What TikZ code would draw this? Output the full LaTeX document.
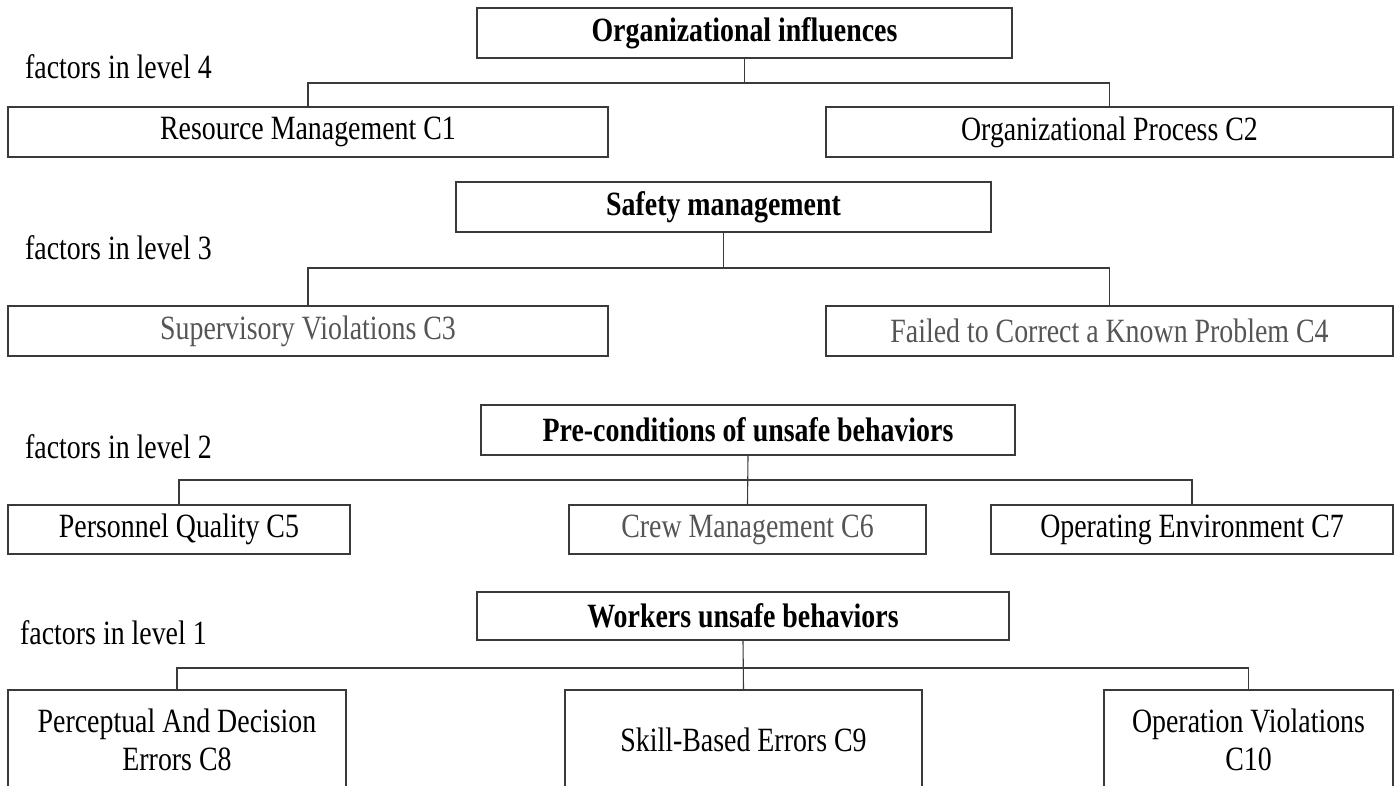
\documentclass[tikz,border=0pt]{standalone}
\usepackage{fontspec}
\setmainfont[FakeStretch=0.82]{Liberation Serif}
\usetikzlibrary{positioning}

\definecolor{linegray}{HTML}{3A3A3A}
\definecolor{textgray}{HTML}{555555}

\tikzset{
  factorbox/.style={draw=linegray, line width=1.1pt, rectangle, inner sep=0pt, minimum height=50, align=center},
  titlebox/.style={factorbox, font=\bfseries},
  graytext/.style={text=textgray},
  levellabel/.style={anchor=west, inner sep=0pt},
  link/.style={draw=linegray, line width=1.1pt}
}

\begin{document}
\fontsize{34}{38}\selectfont
\begin{tikzpicture}[x=1pt, y=-1pt]
  \useasboundingbox (0, 0) rectangle (1396, 786);
  \clip (0, 0) rectangle (1396, 786);
  \fill[white] (0, 0) rectangle (1396, 786);

  \node (org) at (744.5, 33) [titlebox, minimum width=535] {Organizational influences};
  \node (c1) at (308, 132) [factorbox, minimum width=600] {Resource Management C1};
  \node (c2) at (1109.5, 132) [factorbox, minimum width=567] {Organizational Process C2};
  \node (lv4) at (25, 67) [levellabel] {factors in level 4};
  \coordinate (j4) at (0, 83);
  \draw[link] (org.south) -- (org.south |- j4);
  \draw[link] (c1.north) |- (org.south |- j4) -| (c2.north);

  \node (safety) at (723.5, 207) [titlebox, minimum width=535] {Safety management};
  \node (c3) at (308, 331) [factorbox, graytext, minimum width=600] {Supervisory Violations C3};
  \node (c4) at (1109.5, 331) [factorbox, graytext, minimum width=567] {Failed to Correct a Known Problem C4};
  \node (lv3) at (25, 248) [levellabel] {factors in level 3};
  \coordinate (j3) at (0, 268);
  \draw[link] (safety.south) -- (safety.south |- j3);
  \draw[link] (c3.north) |- (safety.south |- j3) -| (c4.north);

  \node (pre) at (748, 430) [titlebox, minimum width=534] {Pre-conditions of unsafe behaviors};
  \node (c5) at (179, 529.5) [factorbox, minimum width=342, minimum height=49] {Personnel Quality C5};
  \node (c6) at (747.5, 529.5) [factorbox, graytext, minimum width=357, minimum height=49] {Crew Management C6};
  \node (c7) at (1192, 529.5) [factorbox, minimum width=402, minimum height=49] {Operating Environment C7};
  \node (lv2) at (25, 447) [levellabel] {factors in level 2};
  \coordinate (j2) at (0, 480);
  \draw[link] (pre.south) -- (c6.north);
  \draw[link] (c5.north) |- (pre.south |- j2) -| (c7.north);

  \node (workers) at (743, 616) [titlebox, minimum width=532, minimum height=48] {Workers unsafe behaviors};
  \node (c8) at (177, 740) [factorbox, minimum width=338, minimum height=100] {Perceptual And Decision\\Errors C8};
  \node (c9) at (743.5, 740) [factorbox, minimum width=357, minimum height=100] {Skill-Based Errors C9};
  \node (c10) at (1248.5, 740) [factorbox, minimum width=289, minimum height=100] {Operation Violations\\C10};
  \node (lv1) at (20, 633) [levellabel] {factors in level 1};
  \coordinate (j1) at (0, 668);
  \draw[link] (workers.south) -- (c9.north);
  \draw[link] (c8.north) |- (workers.south |- j1) -| (c10.north);
\end{tikzpicture}
\end{document}
